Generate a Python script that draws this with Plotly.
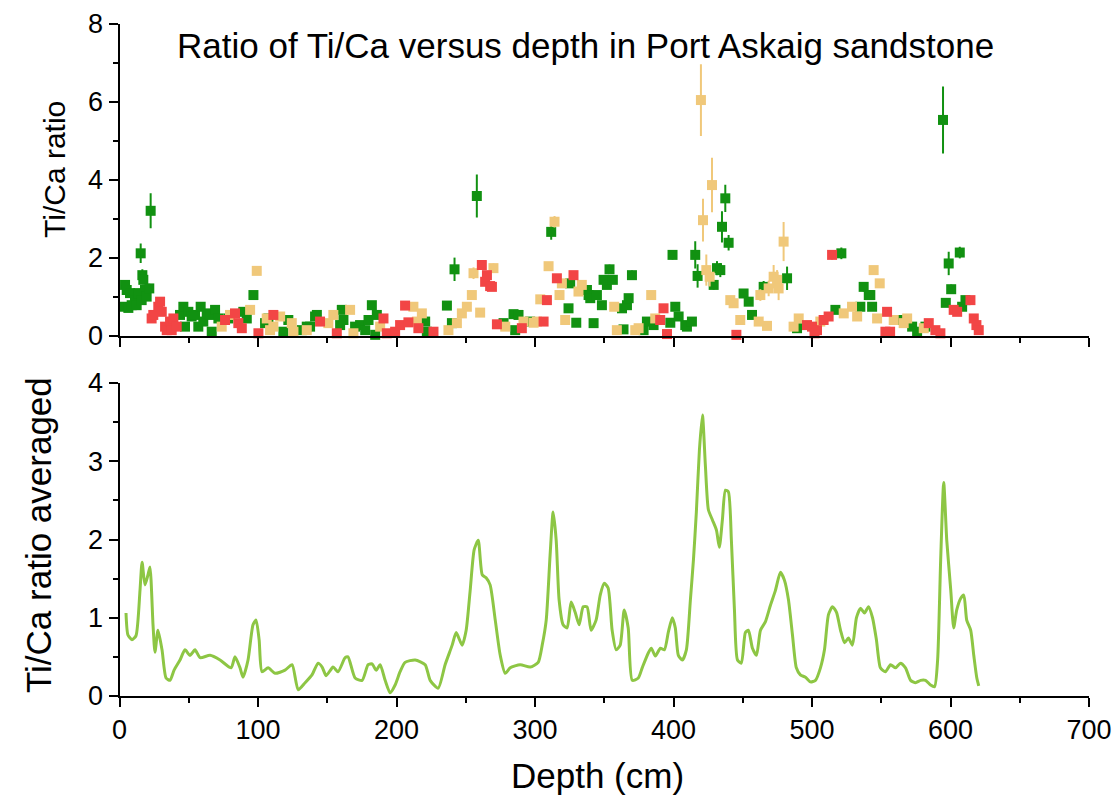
import plotly.graph_objects as go

# ---------------- data ----------------
green_depth = [2.7, 4, 5.2, 6.4, 7.6, 8.8, 11.2, 12.4, 13.6, 15.3, 16, 16.5, 17.2, 18.4, 19.6, 21.5, 22.5,
               43.7, 46.1, 47.3, 49.7, 52.1, 54.5, 56.9, 58.6, 60.5, 63, 65.4, 66.6, 69, 71.4, 78.6, 89.4, 91.9,
               96.7, 105.1, 107.5, 118.3, 121.9, 131.6, 135.2, 137.6, 141.2, 142.5, 159.3, 160.5, 161.7, 170.1,
               173.7, 177.4, 179.8, 182.2, 185.8, 184.6, 220.7, 221.9, 236.4, 240, 241.9, 258,
               277.3, 284.5, 285.7, 288.1, 296.5, 311.7, 324.2, 325.4, 329.8, 337.5, 338.7, 339.9, 342.3, 344.7,
               348.3, 349.5, 351.9, 353.8, 356.2, 362.8, 363.9, 366.4, 367.6, 370, 378.4, 380.8, 385.6, 397.7,
               399.3, 401.3, 403.7, 408.5, 409.7, 413.3, 415.7, 417.4, 429, 431.4, 433.8, 435, 437.4, 439.8,
               450.6, 454.3, 456.7, 465.1, 482, 489.2, 516.9, 521.2, 534.9, 537.3, 541, 542.1, 543.4, 563.8,
               572.3, 575.9, 581.9, 594.6, 596.6, 598.7, 600.5, 606.7, 608.4, 610.8]
green_ratio = [0.75, 1.31, 1.18, 0.72, 1.10, 0.79, 0.92, 0.79, 1.10, 2.12, 0.92, 1.56, 1.44, 1.18, 1.01, 1.22, 3.21,
               0.54, 0.75, 0.24, 0.62, 0.50, 0.54, 0.24, 0.75, 0.37, 0.58, 0.54, 0.11, 0.67, 0.45, 0.45, 0.62, 0.45,
               1.05, 0.33, 0.45, 0.11, 0.41, 0.15, 0.24, 0.24, 0.50, 0.54, 0.28, 0.67, 0.41, 0.24,
               0.28, 0.15, 0.41, 0.79, 0.54, 0.03, 0.37, 0.11, 0.78, 0.33, 1.71, 3.59,
               0.33, 0.56, 0.15, 0.54, 0.37, 2.67, 0.71, 1.35, 0.34, 1.18, 1.05, 0.97, 0.33, 1.05,
               0.79, 1.44, 1.31, 1.71, 1.44, 0.71, 0.17, 0.79, 0.97, 1.56, 0.15, 0.37, 0.28, 0.34,
               2.08, 0.75, 0.50, 0.28, 0.24, 0.37, 2.08, 1.54, 1.31, 1.74, 1.69, 2.80, 3.53, 2.39,
               1.09, 0.88, 0.54, 1.26, 1.48, 0.20, 0.67, 2.12, 0.75, 1.26, 1.05, 1.05, 0.75, 0.41,
               0.24, 0.11, 0.24, 5.54, 0.85, 1.86, 1.20, 2.14, 0.75, 0.92]
green_err = [0.08, 0.10, 0.10, 0.08, 0.10, 0.08, 0.08, 0.08, 0.10, 0.25, 0.08, 0.15, 0.12, 0.10, 0.10, 0.12, 0.45,
             0.06, 0.06, 0.05, 0.06, 0.05, 0.05, 0.05, 0.06, 0.05, 0.05, 0.05, 0.04, 0.06, 0.05, 0.05, 0.06, 0.05,
             0.08, 0.05, 0.05, 0.04, 0.05, 0.04, 0.05, 0.05, 0.05, 0.06, 0.05, 0.06, 0.05, 0.05,
             0.05, 0.04, 0.05, 0.10, 0.06, 0.03, 0.05, 0.04, 0.06, 0.05, 0.30, 0.55,
             0.05, 0.06, 0.04, 0.05, 0.05, 0.20, 0.06, 0.08, 0.05, 0.08, 0.08, 0.07, 0.05, 0.07,
             0.07, 0.10, 0.10, 0.12, 0.10, 0.06, 0.04, 0.07, 0.08, 0.12, 0.04, 0.05, 0.05, 0.05,
             0.12, 0.06, 0.05, 0.05, 0.05, 0.05, 0.35, 0.30, 0.12, 0.18, 0.18, 0.40, 0.35, 0.20,
             0.10, 0.08, 0.06, 0.15, 0.30, 0.04, 0.06, 0.15, 0.06, 0.12, 0.10, 0.08, 0.08, 0.05,
             0.05, 0.04, 0.05, 0.86, 0.08, 0.30, 0.12, 0.15, 0.08, 0.08]

red_depth = [23.2, 24.4, 28, 29.3, 30.5, 32.9, 34.1, 36.5, 37.7, 38.9, 41.3, 76.2, 83.4, 85.8, 88.3, 100.3, 111.1,
             144.8, 156.9, 190.6, 193, 199, 202.6, 206.2, 208.6, 215.8, 226.7, 261.6, 264, 265.3, 267.6, 268.9,
             272.5, 290.5, 306.2, 308.6, 315.8, 327.8, 390.4, 392.8, 395.3, 445.4, 496.4, 500, 501.8, 503.6,
             508.4, 512, 514.5, 553, 554.2, 556.4, 584.3, 589.1, 592.7, 602.3, 604.8, 614.4, 616.8, 618.7, 620.4]
red_ratio = [0.45, 0.54, 0.75, 0.88, 0.62, 0.24, 0.15, 0.37, 0.15, 0.45, 0.24, 0.41, 0.58, 0.33, 0.20, 0.07, 0.54,
             0.37, 0.07, 0.45, 0.07, 0.11, 0.28, 0.78, 0.35, 0.20, 0.11, 1.82, 1.39, 1.56, 1.28, 1.26,
             0.30, 0.20, 0.37, 0.92, 1.48, 1.56, 0.41, 0.71, 0.05, 0.03, 0.28, 0.24, 0.07, 0.15,
             0.41, 0.50, 2.08, 0.11, 0.62, 0.11, 0.33, 0.15, 0.07, 0.67, 0.62, 0.92, 0.45, 0.28, 0.15]
red_err = [0.05, 0.05, 0.06, 0.06, 0.05, 0.05, 0.04, 0.05, 0.04, 0.05, 0.05, 0.05, 0.05, 0.05, 0.04, 0.03, 0.05,
           0.05, 0.03, 0.05, 0.03, 0.04, 0.05, 0.06, 0.05, 0.04, 0.04, 0.10, 0.08, 0.10, 0.08, 0.08,
           0.05, 0.04, 0.05, 0.06, 0.08, 0.08, 0.05, 0.06, 0.03, 0.03, 0.05, 0.05, 0.03, 0.04,
           0.05, 0.05, 0.12, 0.04, 0.06, 0.04, 0.05, 0.04, 0.03, 0.06, 0.06, 0.06, 0.05, 0.05, 0.04]

tan_depth = [73.8, 79.8, 94.3, 99.1, 106.3, 108.7, 111.1, 116, 124.4, 125.6, 135.2, 150.8, 154.4, 166.5, 168.9,
             188.2, 212.2, 214.7, 218.3, 237.5, 243.6, 247.2, 250.8, 254.4, 255.6, 260.4, 270, 278.5, 291.7,
             299, 301.4, 303.8, 309.8, 314.1, 317.7, 319.4, 321.8, 331.4, 333.8, 357.2, 359.1, 372.4, 374.8,
             383.9, 386.8, 419.8, 421.3, 423.7, 426.1, 427.8, 441, 443.4, 448.2, 461.5, 462.7, 467.5, 468.7,
             472.3, 474.8, 475.9, 479.5, 486.7, 490.4, 506, 522.9, 528.9, 532.6, 544.5, 547, 548.9, 559,
             566.2, 568.7, 580.7]
tan_ratio = [0.24, 0.54, 0.67, 1.67, 0.45, 0.15, 0.24, 0.50, 0.33, 0.11, 0.15, 0.33, 0.54, 0.67, 0.07,
             0.24, 0.75, 0.37, 0.58, 0.15, 0.33, 0.58, 0.75, 1.05, 1.61, 0.60, 1.74, 0.24, 0.37,
             0.34, 0.37, 0.94, 1.79, 2.93, 1.05, 1.35, 0.41, 1.14, 1.31, 0.75, 0.15, 0.15, 0.20,
             1.05, 0.45, 6.05, 2.97, 1.69, 1.52, 3.87, 0.92, 0.84, 0.41, 0.37, 1.05, 0.26, 1.22,
             1.52, 1.44, 1.22, 2.42, 0.24, 0.45, 0.37, 0.58, 0.75, 0.50, 1.69, 0.45, 1.35, 0.41,
             0.33, 0.45, 0.20]
tan_err = [0.05, 0.05, 0.06, 0.10, 0.05, 0.04, 0.05, 0.05, 0.05, 0.04, 0.04, 0.05, 0.05, 0.06, 0.03,
           0.05, 0.06, 0.05, 0.05, 0.04, 0.05, 0.06, 0.07, 0.10, 0.15, 0.06, 0.12, 0.05, 0.05,
           0.05, 0.05, 0.06, 0.10, 0.15, 0.07, 0.08, 0.05, 0.07, 0.08, 0.06, 0.04, 0.04, 0.04,
           0.07, 0.05, 0.92, 0.55, 0.40, 0.25, 0.70, 0.08, 0.08, 0.05, 0.05, 0.15, 0.05, 0.20,
           0.30, 0.25, 0.30, 0.50, 0.05, 0.05, 0.05, 0.06, 0.07, 0.05, 0.10, 0.05, 0.10, 0.05,
           0.05, 0.05, 0.04]

avg_depth = [4.7, 6.1, 9, 11.9, 14.8, 16.3, 18.4, 20.6, 22, 24.2, 25.6, 27.8, 30.7, 33.6, 36.5, 39.4, 43.7,
             47.3, 50.9, 54.5, 58.2, 65.4, 72.6, 80.6, 83.4, 87, 89.2, 92.8, 96.4, 98.6, 100.8, 102.9, 107.3,
             112.3, 119.5, 124.6, 129, 134, 139, 143.4, 146.3, 149.2, 154.2, 157.8, 162.9, 165, 170.1, 175.2,
             179.5, 182.4, 185.3, 188.2, 191.8, 195.4, 199, 202.6, 206.2, 213.5, 220.7, 224.3, 230.1, 235.1,
             240.2, 243.1, 247.4, 250.3, 253.2, 256.1, 259, 261.9, 264.7, 267.6, 271.3, 274.9, 278.5, 282.1,
             289.3, 296.6, 302.3, 305.2, 308.1, 310.9, 313.1, 315.3, 317.4, 320.3, 323.2, 326.1, 329, 331.9,
             334.8, 337.6, 340.5, 344.1, 347.1, 350, 352.8, 355.7, 358.6, 361.5, 364.4, 367.3, 370.2, 374.6,
             377.4, 381.8, 384, 386.9, 390.5, 393.4, 396.3, 399.1, 401.3, 403.5, 406.4, 409.3, 412.2, 414.4,
             416.5, 418.7, 420.9, 423, 425.2, 428.1, 431, 433.1, 435.3, 437.5, 439.6, 441.8, 444, 446.2,
             449, 451.9, 454.1, 457, 459.9, 462.8, 466.4, 470, 473.6, 477.2, 480.1, 483, 485.9, 488.7,
             491.6, 495.3, 498.9, 502.5, 506.1, 509, 511.9, 514.8, 517.7, 520.6, 523.5, 526.3, 529.2, 532.1,
             535, 537.9, 540.8, 543.7, 546.5, 549.4, 553, 556.7, 560.3, 563.9, 567.5, 571.2, 574.8, 578.4,
             582, 585.6, 588.5, 590.7, 592.9, 595.1, 597.3, 600.2, 602.3, 604.5, 607.4, 609.6, 611.7, 614.6,
             616.8, 619, 620.4]
avg_ratio = [1.06, 0.78, 0.72, 0.77, 1.35, 1.71, 1.42, 1.55, 1.65, 0.91, 0.56, 0.84, 0.59, 0.23, 0.20, 0.33, 0.46,
             0.59, 0.52, 0.59, 0.49, 0.52, 0.46, 0.36, 0.50, 0.36, 0.24, 0.46, 0.91, 0.97, 0.72, 0.31, 0.36,
             0.29, 0.33, 0.40, 0.08, 0.17, 0.27, 0.42, 0.37, 0.26, 0.37, 0.31, 0.49, 0.50, 0.23, 0.20,
             0.40, 0.41, 0.33, 0.40, 0.20, 0.04, 0.14, 0.31, 0.43, 0.46, 0.40, 0.20, 0.10, 0.40,
             0.65, 0.81, 0.65, 0.84, 1.35, 1.87, 1.99, 1.55, 1.51, 1.42, 0.97, 0.52, 0.29, 0.36,
             0.40, 0.37, 0.43, 0.65, 0.97, 1.80, 2.35, 1.99, 1.23, 0.91, 0.87, 1.20, 1.07, 0.91,
             1.14, 1.14, 0.84, 0.97, 1.29, 1.44, 1.38, 0.84, 0.59, 0.65, 1.10, 0.87, 0.20, 0.23,
             0.36, 0.55, 0.61, 0.51, 0.61, 0.59, 0.82, 1.00, 0.87, 0.52, 0.46, 0.59, 1.23, 1.74,
             2.35, 3.14, 3.59, 2.95, 2.38, 2.25, 2.12, 1.90, 2.25, 2.63, 2.61, 1.99, 1.10, 0.46,
             0.42, 0.81, 0.84, 0.61, 0.52, 0.84, 0.95, 1.16, 1.35, 1.58, 1.48, 1.23, 0.78, 0.36,
             0.27, 0.24, 0.18, 0.20, 0.36, 0.59, 1.04, 1.14, 1.07, 0.84, 0.68, 0.74, 0.65, 1.00,
             1.12, 1.06, 1.14, 1.00, 0.72, 0.36, 0.31, 0.40, 0.36, 0.42, 0.36, 0.20, 0.17, 0.20,
             0.20, 0.14, 0.12, 0.46, 1.74, 2.73, 1.99, 1.35, 0.87, 1.10, 1.25, 1.29, 0.97, 0.84,
             0.52, 0.23, 0.13]

depth_ticks = [0, 100, 200, 300, 400, 500, 600, 700]

# ---------------- styling ----------------
FONT = "Arial, 'Liberation Sans', sans-serif"
GREEN = "#119111"
RED = "#f24545"
TAN = "#f0c87a"
LINE_GREEN = "#8dc644"

fig = go.Figure()


def add_points(xs, ys, errs, color):
    fig.add_trace(go.Scatter(
        x=xs, y=ys, mode="markers", xaxis="x", yaxis="y",
        marker=dict(symbol="square", size=10, color=color, line=dict(width=0)),
        error_y=dict(type="data", array=errs, visible=True, color=color, thickness=2, width=0),
        cliponaxis=False, showlegend=False))


add_points(green_depth, green_ratio, green_err, GREEN)
add_points(tan_depth, tan_ratio, tan_err, TAN)
add_points(red_depth, red_ratio, red_err, RED)

fig.add_trace(go.Scatter(
    x=avg_depth, y=avg_ratio, mode="lines", xaxis="x2", yaxis="y2",
    line=dict(color=LINE_GREEN, width=3, shape="spline", smoothing=0.6),
    showlegend=False))

W, H = 1116, 801

# plot-area edges, in page pixels
LEFT, RIGHT = 119.5, 1089
TOP1, BOT1 = 24, 336
TOP2, BOT2 = 383, 696

x_dom = [LEFT / W, RIGHT / W]
top_dom = [1 - BOT1 / H, 1 - TOP1 / H]
bot_dom = [1 - BOT2 / H, 1 - TOP2 / H]

axis_common = dict(showline=True, linecolor="black", linewidth=2, showgrid=False, zeroline=False,
                   automargin=False, ticks="outside", ticklen=9, tickwidth=2, tickcolor="black",
                   tickfont=dict(family=FONT, size=27, color="black"))
minor_common = dict(ticks="outside", ticklen=5, tickwidth=2, tickcolor="black")

fig.update_layout(
    width=W, height=H,
    margin=dict(l=0, r=0, t=0, b=0, autoexpand=False),
    paper_bgcolor="white", plot_bgcolor="white",
    font=dict(family=FONT, color="black"),
    xaxis=dict(domain=x_dom, anchor="y", range=[0, 700], tickvals=depth_ticks, showticklabels=False,
               minor=dict(dtick=50, **minor_common),
               **{k: v for k, v in axis_common.items() if k != "tickfont"}),
    yaxis=dict(domain=top_dom, anchor="x", range=[0, 8], dtick=2, minor=dict(dtick=1, **minor_common),
               **axis_common),
    xaxis2=dict(domain=x_dom, anchor="y2", range=[0, 700], tickvals=depth_ticks,
                minor=dict(dtick=50, **minor_common), **axis_common),
    yaxis2=dict(domain=bot_dom, anchor="x2", range=[0, 4], dtick=1, minor=dict(dtick=0.5, **minor_common),
                **axis_common),
    annotations=[
        dict(text="Ratio of Ti/Ca versus depth in Port Askaig sandstone", xref="paper", yref="paper",
             x=585 / W, y=1 - 45 / H, xanchor="center", yanchor="middle", showarrow=False,
             font=dict(family=FONT, size=35, color="black")),
        dict(text="Ti/Ca ratio", xref="paper", yref="paper", x=55 / W, y=1 - 170 / H, textangle=-90,
             xanchor="center", yanchor="middle", showarrow=False, font=dict(family=FONT, size=30, color="black")),
        dict(text="Ti/Ca ratio averaged", xref="paper", yref="paper", x=38 / W, y=1 - 535 / H, textangle=-90,
             xanchor="center", yanchor="middle", showarrow=False, font=dict(family=FONT, size=35, color="black")),
        dict(text="Depth (cm)", xref="paper", yref="paper", x=597 / W, y=1 - 775 / H, textangle=0,
             xanchor="center", yanchor="middle", showarrow=False, font=dict(family=FONT, size=35, color="black")),
    ],
)

fig.write_html("out.html")
